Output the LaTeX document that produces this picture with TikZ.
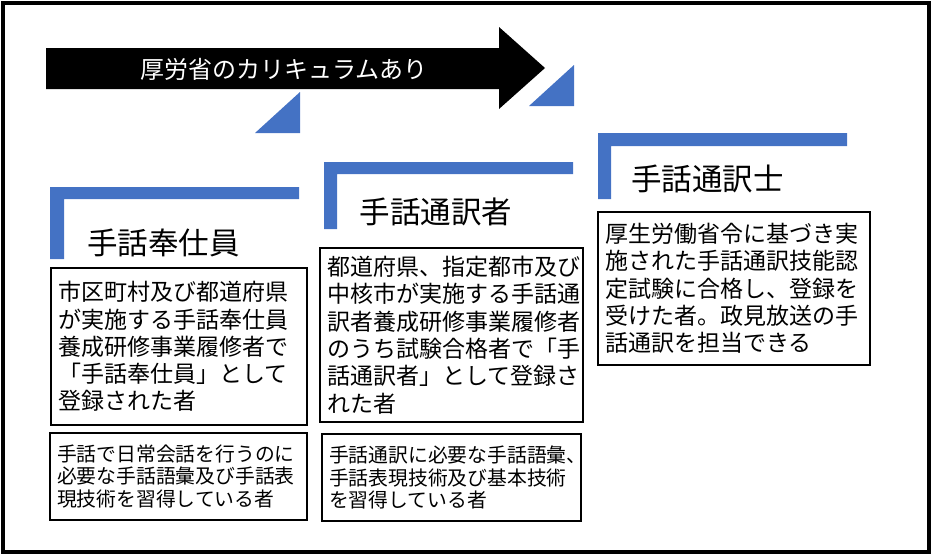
\documentclass[tikz,border=0pt]{standalone}
\usepackage{fontspec}
\setmainfont{Noto Sans CJK JP}
\usepackage{tikz}
\definecolor{stepblue}{RGB}{68,114,196}

\begin{document}
\begin{tikzpicture}[
  x=1pt, y=-1pt,
  every node/.style={inner sep=0pt},
  descbox/.style={draw, line width=1.1pt, inner xsep=7pt, align=left,
    font=\fontsize{23}{27.3}\selectfont},
  skillbox/.style={descbox, font=\fontsize{19.8}{22.5}\selectfont},
  levellabel/.style={font=\fontsize{30.5}{36}\selectfont}
]
\useasboundingbox (0,0) rectangle (932,555);

% Frame
\draw[line width=4pt] (2.5,2.5) rectangle (928.5,551.5);

% Curriculum arrow
\fill (46,48) -- (499,48) -- (499,27) -- (545,68) -- (499,109) -- (499,89) -- (46,89) -- cycle;
\node[text=white, font=\fontsize{24}{28}\selectfont] (curr) at (284,69) {厚労省のカリキュラムあり};

% Steps between levels
\fill[stepblue] (255,133) -- (300,133) -- (300,92) -- cycle;
\fill[stepblue] (529,106) -- (574,106) -- (574,65) -- cycle;

% Brackets
\fill[stepblue] (50,187) -- (299,187) -- (299,199) -- (64,199) -- (64,259) -- (50,259) -- cycle;
\fill[stepblue] (324,162) -- (573,162) -- (573,174) -- (337,174) -- (337,229) -- (324,229) -- cycle;
\fill[stepblue] (598,133) -- (847,133) -- (847,146) -- (611,146) -- (611,199) -- (598,199) -- cycle;

% Level titles
\node[levellabel] (vollabel) at (163.5,243) {手話奉仕員};
\node[levellabel] (interplabel) at (436,212) {手話通訳者};
\node[levellabel] (certlabel) at (707.5,179) {手話通訳士};

% Descriptions
\node[descbox, text width=242pt, minimum height=157pt] (vol) at (179,346.5)
  {市区町村及び都道府県\\が実施する手話奉仕員\\養成研修事業履修者で\\「手話奉仕員」として\\登録された者};
\node[descbox, text width=249pt, minimum height=174pt] (interp) at (451.5,335)
  {都道府県、指定都市及び\\中核市が実施する手話通\\訳者養成研修事業履修者\\のうち試験合格者で「手\\話通訳者」として登録さ\\れた者};
\node[descbox, text width=258pt, minimum height=153pt] (cert) at (734,288.5)
  {厚生労働省令に基づき実\\施された手話通訳技能認\\定試験に合格し、登録を\\受けた者。政見放送の手\\話通訳を担当できる};

% Skills
\node[skillbox, text width=243pt, minimum height=87pt] (volskill) at (178.5,476.5)
  {手話で日常会話を行うのに\\必要な手話語彙及び手話表\\現技術を習得している者};
\node[skillbox, text width=245pt, minimum height=87pt] (interpskill) at (451.5,477.5)
  {手話通訳に必要な手話語彙、\\手話表現技術及び基本技術\\を習得している者};

\end{tikzpicture}
\end{document}
